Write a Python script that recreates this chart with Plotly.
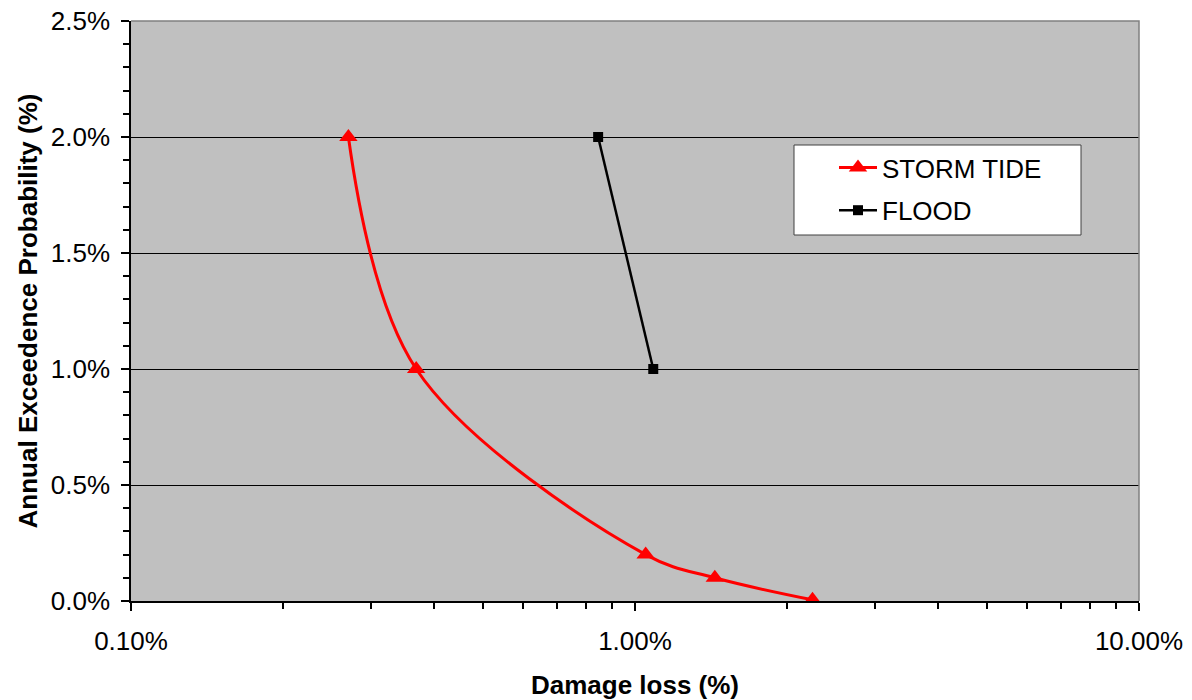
import plotly.graph_objects as go

# Data (values in percent)
storm_loss = [0.27, 0.368, 1.05, 1.44, 2.25]
storm_prob = [2.0, 1.0, 0.2, 0.1, 0.005]
flood_loss = [0.845, 1.087]
flood_prob = [2.0, 1.0]

x_tickvals = [0.1, 1, 10]
x_ticktext = ["0.10%", "1.00%", "10.00%"]
x_minor = [m * d for d in (0.1, 1) for m in range(2, 10)]
y_tickvals = [0, 0.5, 1.0, 1.5, 2.0, 2.5]
y_ticktext = ["0.0%", "0.5%", "1.0%", "1.5%", "2.0%", "2.5%"]

FONT = "Liberation Sans, Arial, sans-serif"

L, T, R, B = 131, 21, 1192 - 1139, 700 - 601
PW, PH = 1008, 580

fig = go.Figure()
fig.add_trace(go.Scatter(
    x=storm_loss, y=storm_prob, name="STORM TIDE", mode="lines+markers",
    line=dict(color="#FF0000", width=3, shape="spline", smoothing=1.0),
    marker=dict(symbol="triangle-up", size=16, color="#FF0000"),
    legendgroup="a",
))
fig.add_trace(go.Scatter(
    x=flood_loss, y=flood_prob, name="FLOOD", mode="lines+markers",
    line=dict(color="#000000", width=2.5),
    marker=dict(symbol="square", size=10, color="#000000"),
    legendgroup="b",
))

# legend box
fig.add_shape(type="rect", xref="paper", yref="paper",
              x0=(794 - 131) / PW, x1=(1081 - 131) / PW,
              y0=(601 - 235) / PH, y1=(601 - 145) / PH,
              fillcolor="white", line=dict(color="#404040", width=1), layer="above")
# plot border (top/right gray)
fig.add_shape(type="path", xref="paper", yref="paper", path="M 0,1 L 1,1 L 1,0",
              line=dict(color="#808080", width=1.5), layer="above")

fig.update_layout(
    width=1192, height=700,
    margin=dict(l=L, r=R, t=T, b=B),
    paper_bgcolor="white", plot_bgcolor="#C0C0C0",
    font=dict(family=FONT, size=26, color="black"),
    showlegend=True,
    legend=dict(x=(834 - 131) / PW, y=(601 - 144) / PH, xanchor="left", yanchor="top",
                bgcolor="rgba(0,0,0,0)", borderwidth=0, itemwidth=38,
                tracegroupgap=6, font=dict(size=26, family=FONT)),
    xaxis=dict(
        type="log", range=[-1, 1], tickvals=x_tickvals, ticktext=x_ticktext,
        ticks="outside", ticklen=8, tickcolor="black", tickwidth=1.5,
        showline=True, linecolor="black", linewidth=1.5, showgrid=False, zeroline=False,
        ticklabelstandoff=8, automargin=False, ticklabeloverflow="allow",
        minor=dict(tickvals=x_minor, ticks="outside", ticklen=6, tickcolor="black", showgrid=False),
        title=dict(text="<b>Damage loss (%)</b>", font=dict(size=26, family=FONT), standoff=31),
    ),
    yaxis=dict(
        range=[0, 2.5], tickvals=y_tickvals, ticktext=y_ticktext,
        ticks="outside", ticklen=8, tickcolor="black", tickwidth=1.5,
        showline=True, linecolor="black", linewidth=1.5,
        showgrid=True, gridcolor="black", gridwidth=1, zeroline=False,
        ticklabelstandoff=6, automargin=False, ticklabeloverflow="allow",
        minor=dict(dtick=0.1, ticks="outside", ticklen=6, tickcolor="black", showgrid=False),
        title=dict(text="<b>Annual Exceedence Probability (%)</b>", font=dict(size=26, family=FONT), standoff=6),
    ),
)

fig.write_html("out.html", config={"displayModeBar": False},
               post_script="document.body.style.margin='0';")
